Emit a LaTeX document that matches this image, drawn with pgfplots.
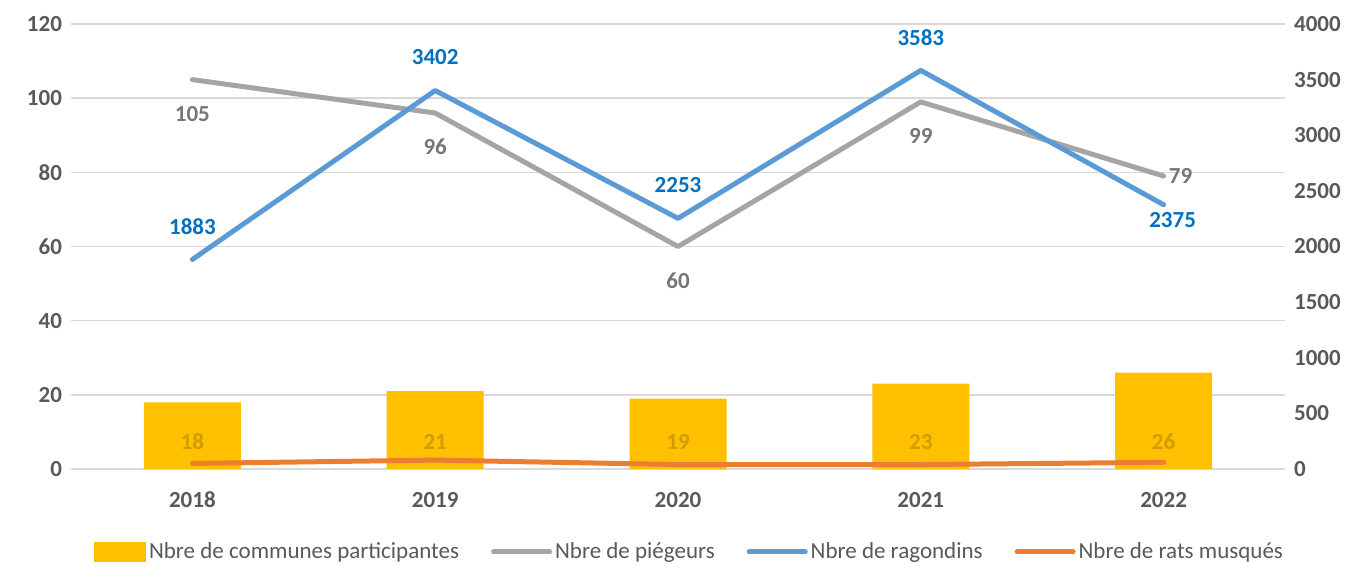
\documentclass[border=0pt]{standalone}
\usepackage{pgfplots}
\pgfplotsset{compat=1.18}
\usepackage{fontspec}
\setmainfont{Carlito}
\definecolor{barc}{HTML}{FFC000}
\definecolor{grayc}{HTML}{A5A5A5}
\definecolor{bluec}{HTML}{5B9BD5}
\definecolor{orangec}{HTML}{ED7D31}
\definecolor{tickc}{HTML}{595959}
\definecolor{gridc}{HTML}{D9D9D9}
\definecolor{glab}{HTML}{767676}
\definecolor{blab}{HTML}{0070C0}
\definecolor{ylab}{HTML}{D09C00}
\begin{document}
\begin{tikzpicture}[font=\fontsize{11.5}{13}\selectfont]
\pgfplotsset{
  common/.style={scale only axis, width=607pt, height=222.5pt,
    xmin=-0.5, xmax=4.5,
    axis line style={draw=none}, tick style={draw=none}, major tick length=0pt,
    /pgf/number format/assume math mode=true,
    /pgf/number format/1000 sep={},
    ticklabel style={font=\fontsize{11.5}{13}\selectfont\bfseries, text=tickc},
  },
}
\begin{axis}[common, name=ax,
  ymin=0, ymax=120, ytick={0,20,...,120},
  ymajorgrids, grid style={gridc, line width=0.8pt},
  xtick={0,1,2,3,4}, xticklabels={2018,2019,2020,2021,2022},
  xticklabel style={yshift=-8pt},
  yticklabel style={xshift=-1pt},
  legend columns=4,
  legend style={draw=none, at={(0.5,-0.1865)}, anchor=center, xshift=6pt,
    font=\fontsize{11.5}{13}\selectfont, text=tickc,
    /tikz/every even column/.append style={column sep=14.5pt},
    nodes={inner sep=1.5pt}},
  legend cell align=left,
]
\addplot[fill=barc, draw=none, ybar, bar width=48.5pt,
  legend image code/.code={\fill[barc] (0pt,-5pt) rectangle (26pt,5pt);}]
  coordinates {(0,18) (1,21) (2,19) (3,23) (4,26)};
\addlegendentry{Nbre de communes participantes}
\addplot[grayc, line width=2.5pt, line cap=round, line join=round, mark=none,
  legend image code/.code={\draw[grayc, line width=2.5pt, line cap=round] (0pt,0pt) -- (28pt,0pt);},
  nodes near coords, point meta=y,
  every node near coord/.append style={anchor=center, yshift=-17pt, text=glab, font=\fontsize{11.5}{13}\selectfont\bfseries},
  coordinate style/.condition={x==4}{xshift=8.5pt, yshift=17pt}]
  coordinates {(0,105) (1,96) (2,60) (3,99) (4,79)};
\addlegendentry{Nbre de piégeurs}
\addlegendimage{legend image code/.code={\draw[bluec, line width=2.5pt, line cap=round] (0pt,0pt) -- (28pt,0pt);}}
\addlegendentry{Nbre de ragondins}
\addlegendimage{legend image code/.code={\draw[orangec, line width=2.5pt, line cap=round] (0pt,0pt) -- (28pt,0pt);}}
\addlegendentry{Nbre de rats musqués}
\addplot[draw=none, mark=none, forget plot, nodes near coords, point meta=explicit symbolic,
  every node near coord/.append style={anchor=center, text=ylab, font=\fontsize{11.5}{13}\selectfont\bfseries}]
  coordinates {(0,7.3)[18] (1,7.3)[21] (2,7.3)[19] (3,7.3)[23] (4,7.3)[26]};
\end{axis}
\begin{axis}[common,
  ymin=0, ymax=4000, ytick={0,500,...,4000},
  axis y line*=right, axis x line=none,
  yticklabel style={anchor=west, xshift=1pt, font=\fontsize{11.5}{13}\selectfont\bfseries, text=tickc},
]
\addplot[orangec, line width=2.5pt, line cap=round, line join=round, mark=none]
  coordinates {(0,50) (1,80) (2,40) (3,40) (4,60)};
\addplot[bluec, line width=2.5pt, line cap=round, line join=round, mark=none,
  nodes near coords, point meta=y,
  every node near coord/.append style={anchor=center, yshift=16.5pt, text=blab, font=\fontsize{11.5}{13}\selectfont\bfseries},
  coordinate style/.condition={x==4}{xshift=4.5pt, yshift=-24pt}]
  coordinates {(0,1883) (1,3402) (2,2253) (3,3583) (4,2375)};
\end{axis}
\pgfresetboundingbox
\path ([shift={(-35.5pt,-48.5pt)}]ax.south west) rectangle ([shift={(37.5pt,12pt)}]ax.north east);
\end{tikzpicture}
\end{document}
